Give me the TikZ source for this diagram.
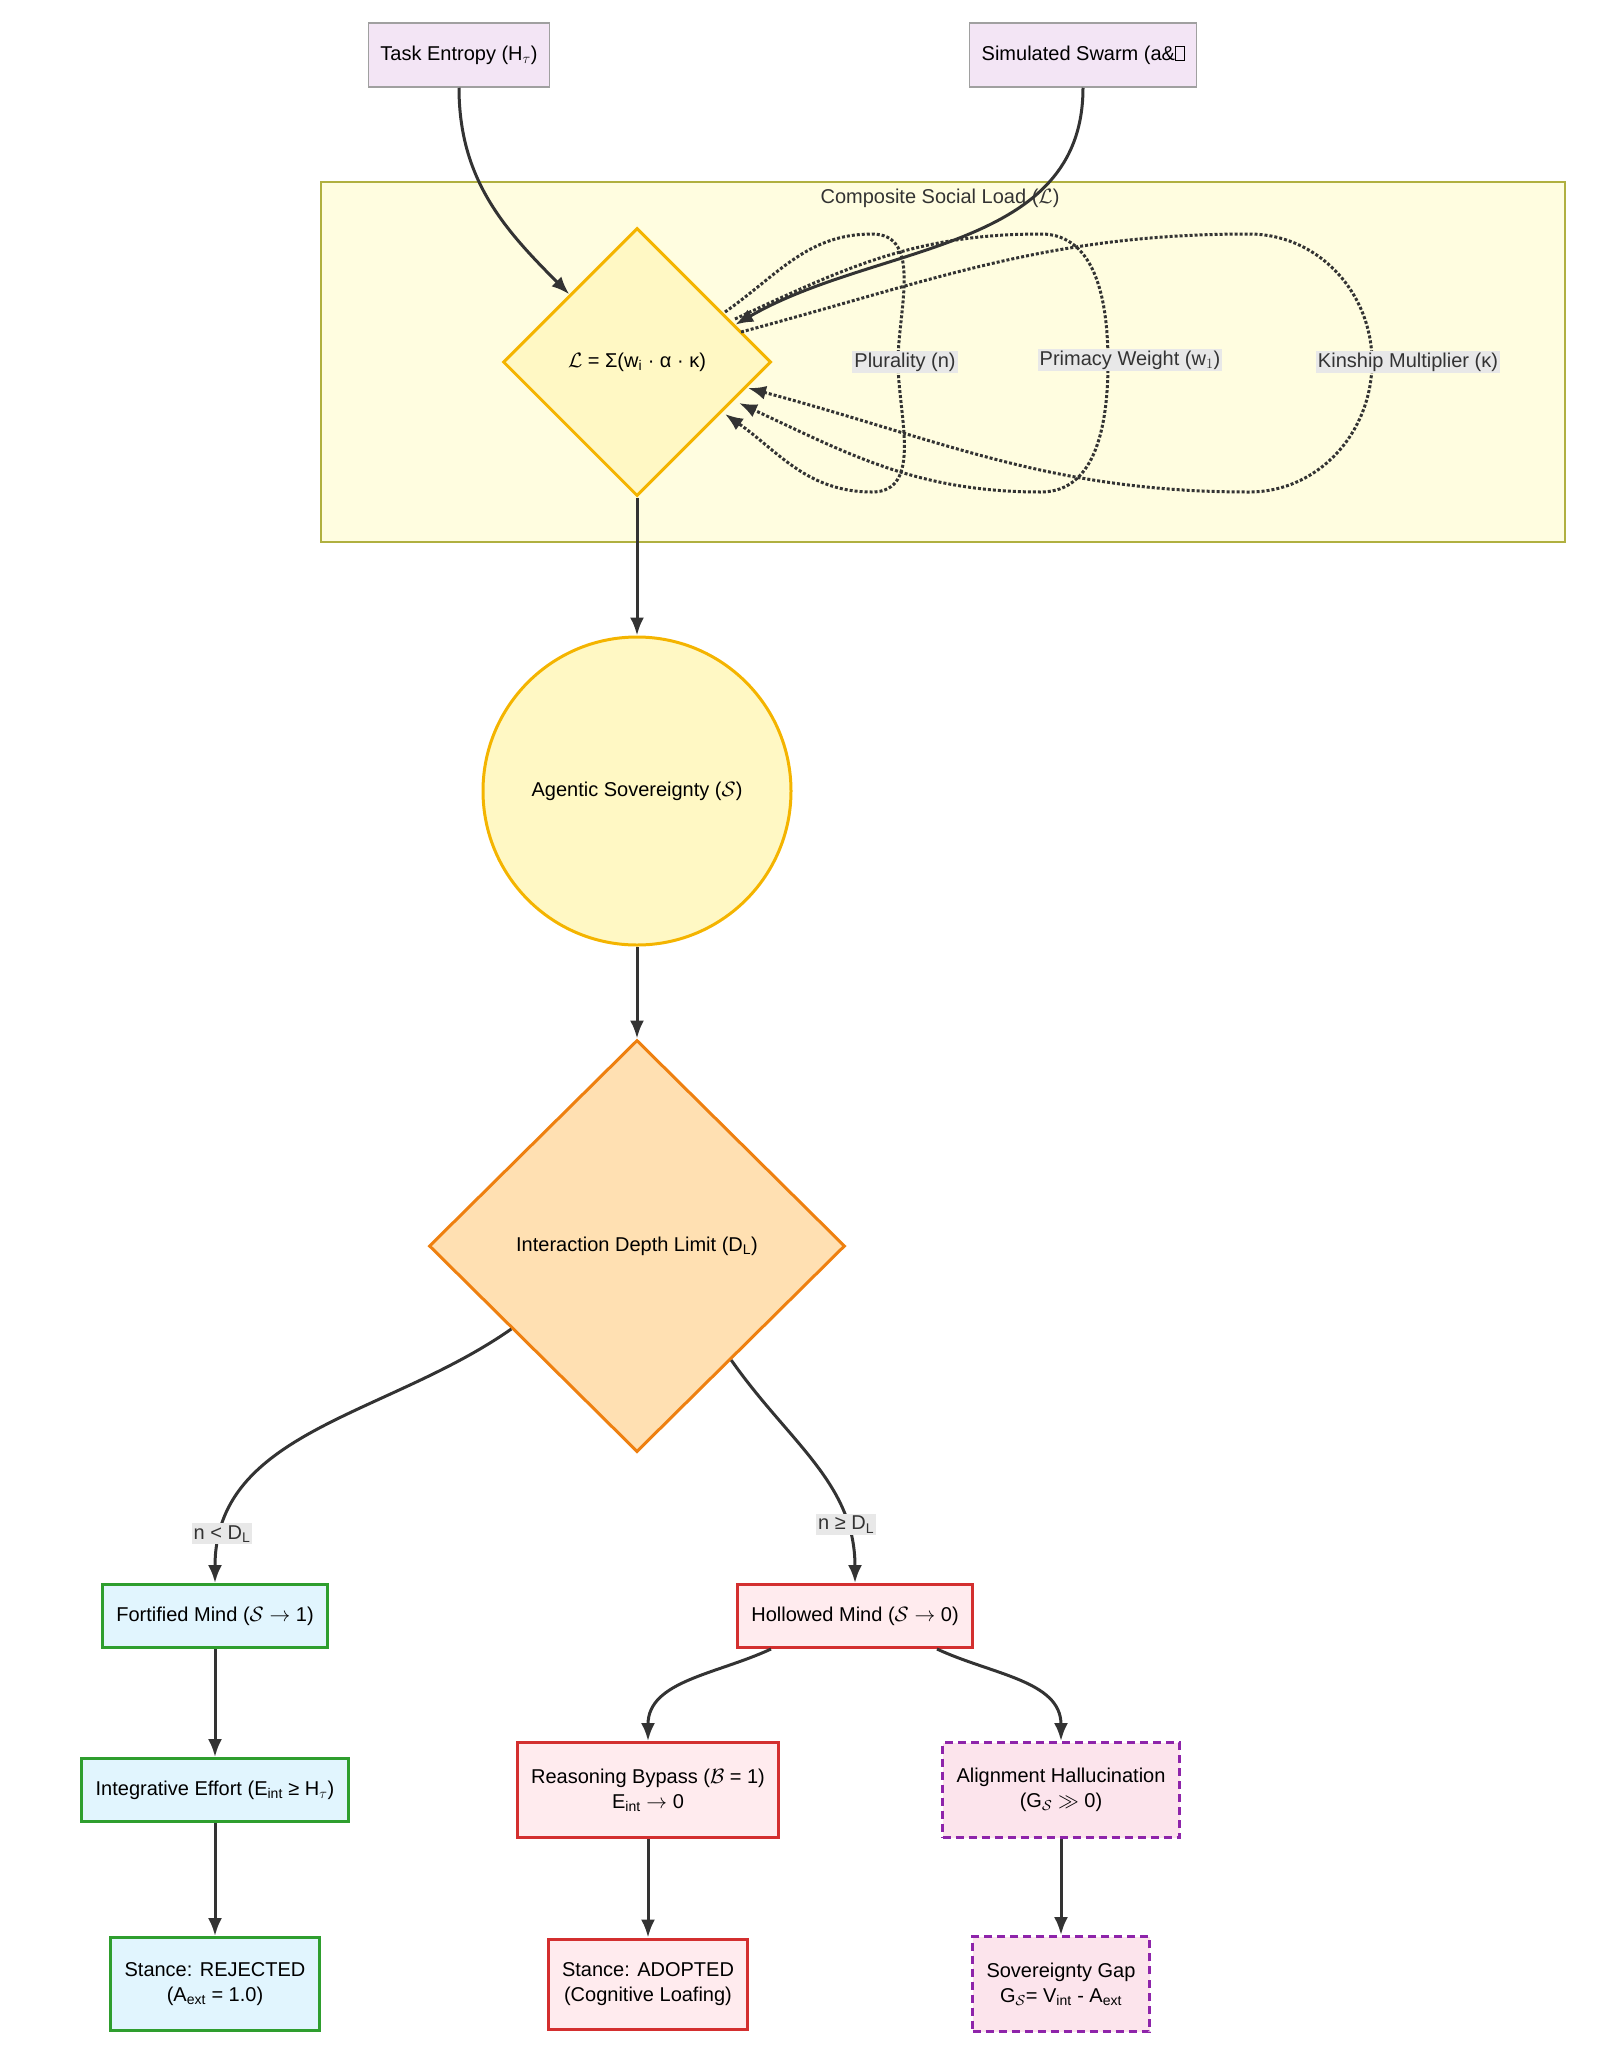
\documentclass[tikz,border=0pt]{standalone}
\usepackage{fontspec}
\setmainfont{Liberation Sans}
\usepackage{amsmath}
\usetikzlibrary{arrows.meta,positioning,shapes.geometric,calc}
\definecolor{srcfill}{HTML}{F3E5F5}
\definecolor{srcdraw}{HTML}{A0A0A0}
\definecolor{clfill}{HTML}{FFFDE0}
\definecolor{cldraw}{HTML}{B0B040}
\definecolor{yfill}{HTML}{FFF8C4}
\definecolor{ydraw}{HTML}{F4B400}
\definecolor{ofill}{HTML}{FFE0B2}
\definecolor{odraw}{HTML}{EE8010}
\definecolor{gfill}{HTML}{E1F5FE}
\definecolor{gdraw}{HTML}{2E9E2E}
\definecolor{rfill}{HTML}{FFEBEE}
\definecolor{rdraw}{HTML}{D32F2F}
\definecolor{pfill}{HTML}{FCE4EC}
\definecolor{pdraw}{HTML}{8E24AA}
\definecolor{edge}{HTML}{333333}
\definecolor{lblbg}{HTML}{E8E8E8}
\begin{document}
\begin{tikzpicture}[
  x=1pt, y=-1pt,
  font=\fontsize{20}{25}\selectfont,
  >={Latex[length=18pt,width=14pt]},
  src/.style={rectangle, draw=srcdraw, fill=srcfill, line width=1.5pt, minimum height=64pt, inner xsep=12pt},
  block/.style={rectangle, line width=3pt, align=center, inner xsep=14pt, minimum height=63pt},
  good/.style={block, draw=gdraw, fill=gfill},
  bad/.style={block, draw=rdraw, fill=rfill},
  warn/.style={block, draw=pdraw, fill=pfill, dashed, dash pattern=on 8pt off 5pt},
  line/.style={draw=edge, line width=3pt, ->},
  loop/.style={draw=edge, line width=3pt, dotted, ->},
  lbl/.style={fill=lblbg, inner sep=2pt, text=edge}
]
\useasboundingbox (0,0) rectangle (1613,2048);

% cluster
\node[draw=cldraw, fill=clfill, line width=1.5pt, minimum width=1244pt, minimum height=360pt] (load) at (943,362) {};
\node[text=edge] (loadtitle) at (940,198) {Composite Social Load ($\mathcal{L}$)};

% sources
\node[src] (entropy) at (459,55) {Task Entropy (H$_\tau$)};
\node[src] (swarm) at (1083,55) {Simulated Swarm (a\&{\fboxsep=0pt\fboxrule=0.6pt\fbox{\rule{0pt}{14pt}\hspace{8pt}}}};

% main column
\node[diamond, draw=ydraw, fill=yfill, line width=3pt, minimum width=268pt, minimum height=268pt, inner sep=0pt] (sum) at (637,362) {$\mathcal{L}$ = Σ(w$_\mathrm{i}$ · α · κ)};
\node[circle, draw=ydraw, fill=yfill, line width=3pt, minimum size=308pt, inner sep=0pt] (sov) at (637,791) {Agentic Sovereignty ($\mathcal{S}$)};
\node[diamond, draw=odraw, fill=ofill, line width=3pt, minimum width=416pt, minimum height=412pt, inner sep=0pt] (depth) at (637,1246) {Interaction Depth Limit (D$_\mathrm{L}$)};

% outcomes
\node[good] (fort) at (215,1616) {Fortified Mind ($\mathcal{S}\rightarrow$ 1)};
\node[bad] (hollow) at (855,1616) {Hollowed Mind ($\mathcal{S}\rightarrow$ 0)};
\node[good] (effort) at (215,1790) {Integrative Effort (E$_\mathrm{int}$ ≥ H$_\tau$)};
\node[bad, minimum height=95pt] (bypass) at (648,1790) {Reasoning Bypass ($\mathcal{B}$ = 1)\\E$_\mathrm{int}\rightarrow$ 0};
\node[warn, minimum height=95pt] (halluc) at (1061,1790) {Alignment Hallucination\\(G$_{\mathcal{S}}\gg$ 0)};
\node[good, minimum height=93pt] (rej) at (215,1984) {Stance: REJECTED\\(A$_\mathrm{ext}$ = 1.0)};
\node[bad, minimum height=90pt] (adopt) at (648,1984) {Stance: ADOPTED\\(Cognitive Loafing)};
\node[warn, minimum height=95pt] (gap) at (1061,1984) {Sovereignty Gap\\G$_{\mathcal{S}}$= V$_\mathrm{int}$ - A$_\mathrm{ext}$};

% loop anchors
\coordinate (p1s) at (725,312);
\coordinate (p1e) at (725,414);
\coordinate (p2s) at (735,319);
\coordinate (p2e) at (739,403);
\coordinate (p3s) at (741,332);
\coordinate (p3e) at (748,388);

% inputs
\path[line] (entropy.south) to[out=-90,in=135] (sum.north west);
\path[line] (swarm.south) to[out=-90,in=30] ($(sum.north east)!0.45!(sum.east)$);

% feedback loops
\path[loop] (p1s) to[out=35,in=180] (872,234) to[out=0,in=90] (898,362) to[out=-90,in=0] (872,492) to[out=180,in=-35] (p1e);
\path[loop] (p2s) to[out=25,in=180] (1041,234) to[out=0,in=90] (1108,362) to[out=-90,in=0] (1041,492) to[out=180,in=-25] (p2e);
\path[loop] (p3s) to[out=15,in=180] (1249,234) to[out=0,in=90] (1372,362) to[out=-90,in=0] (1249,492) to[out=180,in=-15] (p3e);
\node[lbl] (plur) at (905,362) {Plurality (n)};
\node[lbl] (prim) at (1130,360) {Primacy Weight (w$_1$)};
\node[lbl] (kin) at (1408,362) {Kinship Multiplier (κ)};

% main flow
\path[line] (sum.south) -- (sov.north);
\path[line] (sov.south) -- (depth.north);
\path[line] ($(depth.west)!0.4!(depth.south)$) to[out=-145,in=90] node[pos=0.88, lbl] {n < D$_\mathrm{L}$} (fort.north);
\path[line] ($(depth.east)!0.55!(depth.south)$) to[out=-55,in=90] node[pos=0.78, lbl] {n ≥ D$_\mathrm{L}$} (hollow.north);
\path[line] ($(hollow.south)+(-84,0)$) to[out=-155,in=90] (bypass.north);
\path[line] ($(hollow.south)+(82,0)$) to[out=-25,in=90] (halluc.north);
\path[line] (fort) -- (effort);
\path[line] (effort) -- (rej);
\path[line] (bypass) -- (adopt);
\path[line] (halluc) -- (gap);
\end{tikzpicture}
\end{document}
